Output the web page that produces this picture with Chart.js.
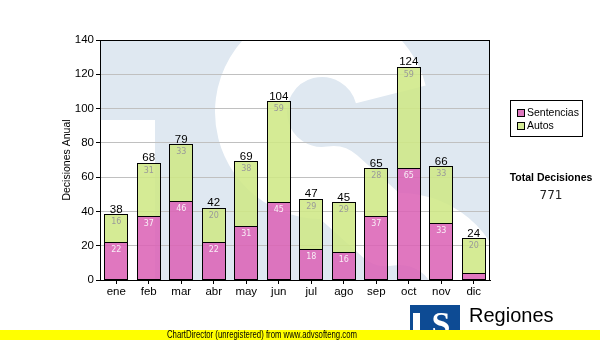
<!DOCTYPE html>
<html>
<head>
<meta charset="utf-8">
<script src="https://cdn.jsdelivr.net/npm/chart.js@4/dist/chart.umd.min.js"></script>
<style>
  html, body { margin: 0; padding: 0; background: #fff; }
  #wrap { position: relative; width: 600px; height: 340px; }
</style>
</head>
<body>
<div id="wrap"><canvas id="c" width="600" height="340"></canvas></div>
<script>
// Monthly decisions, split by type
const months = ['ene', 'feb', 'mar', 'abr', 'may', 'jun', 'jul', 'ago', 'sep', 'oct', 'nov', 'dic'];
const sentencias = [22, 37, 46, 22, 31, 45, 18, 16, 37, 65, 33, 4];
const autos = [16, 31, 33, 20, 38, 59, 29, 29, 28, 59, 33, 20];
const yTickValues = [0, 20, 40, 60, 80, 100, 120, 140];

const totals = months.map((_, i) => sentencias[i] + autos[i]);
const grandTotal = totals.reduce((a, b) => a + b, 0);

const SANS = '"Liberation Sans", Arial, sans-serif';
const VERD = '"DejaVu Sans", Verdana, sans-serif';

// Faded "TS" emblem behind the plot (390x240 design units): T notch plus a wide S stroke
function drawEmblem(ctx, bg, fg) {
  ctx.save();
  ctx.beginPath();
  ctx.rect(0, 0, 390, 240);
  ctx.clip();
  ctx.fillStyle = bg;
  ctx.fillRect(0, 0, 390, 240);
  ctx.fillStyle = fg;
  ctx.fillRect(0, 80, 55, 160);
  ctx.strokeStyle = fg;
  ctx.lineWidth = 72;
  ctx.lineCap = 'butt';
  ctx.lineJoin = 'round';
  ctx.beginPath();
  ctx.arc(222, 72, 71, -0.25, Math.PI * 0.45, true);
  ctx.arc(300, 260, 71, -Math.PI * 0.56, Math.PI * 0.6, false);
  ctx.stroke();
  ctx.restore();
}

// Small solid logo in the footer
function drawLogo(ctx, x, y) {
  ctx.save();
  ctx.beginPath();
  ctx.rect(x, y, 50, 30);
  ctx.clip();
  ctx.fillStyle = '#0d4b94';
  ctx.fillRect(x, y, 50, 30);
  ctx.fillStyle = '#fff';
  ctx.fillRect(x + 3, y + 8, 7, 22);
  ctx.font = 'bold 34px "Liberation Serif", "DejaVu Serif", serif';
  ctx.textAlign = 'center';
  ctx.textBaseline = 'alphabetic';
  ctx.fillText('S', x + 31, y + 30);
  ctx.restore();
}

const decorPlugin = {
  id: 'decor',
  beforeDraw(chart) {
    const { ctx, chartArea: a } = chart;
    ctx.save();
    ctx.translate(a.left, a.top);
    ctx.scale((a.right - a.left) / 390, (a.bottom - a.top) / 240);
    drawEmblem(ctx, '#dfe8f1', '#ffffff');
    ctx.restore();
  },
  afterDatasetsDraw(chart) {
    const { ctx, chartArea: a } = chart;
    const metas = [chart.getDatasetMeta(0), chart.getDatasetMeta(1)];
    ctx.save();
    // crisp black outlines for every bar segment
    ctx.strokeStyle = '#000';
    ctx.lineWidth = 1;
    metas.forEach(meta => meta.data.forEach(el => {
      const p = el.getProps(['x', 'y', 'base', 'width'], true);
      const l = Math.floor(p.x - p.width / 2) + 0.5;
      const r = Math.ceil(p.x + p.width / 2) - 0.5;
      const t = Math.floor(Math.min(p.y, p.base)) + 0.5;
      const b = Math.floor(Math.max(p.y, p.base)) + 0.5;
      ctx.strokeRect(l, t, r - l, b - t);
    }));

    ctx.textAlign = 'center';
    ctx.textBaseline = 'alphabetic';
    months.forEach((_, i) => {
      const b0 = metas[0].data[i];
      const b1 = metas[1].data[i];
      ctx.font = '8px ' + VERD;
      if (Math.abs(b0.base - b0.y) >= 12) {
        ctx.fillStyle = '#f8eef6';
        ctx.fillText(String(sentencias[i]), b0.x, b0.y + 9.5);
      }
      if (Math.abs(b1.base - b1.y) >= 12) {
        ctx.fillStyle = '#9a9a9a';
        ctx.fillText(String(autos[i]), b1.x, b1.y + 9.5);
      }
      ctx.font = '11.5px ' + SANS;
      ctx.fillStyle = '#000';
      ctx.fillText(String(totals[i]), b1.x, b1.y - 2);
    });
    // plot frame
    ctx.strokeRect(Math.round(a.left) + 0.5, Math.round(a.top) + 0.5,
      Math.round(a.right - a.left) - 1, Math.round(a.bottom - a.top));
    ctx.restore();
  },
  afterDraw(chart) {
    const { ctx } = chart;
    ctx.save();

    // axis title
    ctx.save();
    ctx.translate(67, 160);
    ctx.rotate(-Math.PI / 2);
    ctx.font = '10.5px ' + SANS;
    ctx.fillStyle = '#000';
    ctx.textAlign = 'center';
    ctx.textBaseline = 'middle';
    ctx.fillText('Decisiones Anual', 0, 0);
    ctx.restore();

    // legend
    ctx.fillStyle = '#fff';
    ctx.fillRect(510.5, 100.5, 72, 36);
    ctx.strokeStyle = '#000';
    ctx.lineWidth = 1;
    ctx.strokeRect(510.5, 100.5, 72, 36);
    const items = [['Sentencias', '#dd78be', 113], ['Autos', '#d5ec96', 126]];
    ctx.font = '10.5px ' + SANS;
    ctx.textAlign = 'left';
    ctx.textBaseline = 'middle';
    items.forEach(([label, col, y]) => {
      ctx.fillStyle = col;
      ctx.fillRect(517.5, y - 3.5, 7, 7);
      ctx.strokeRect(517.5, y - 3.5, 7, 7);
      ctx.fillStyle = '#000';
      ctx.fillText(label, 527, y + 0.5);
    });

    // grand total
    ctx.textAlign = 'center';
    ctx.font = 'bold 10.5px ' + SANS;
    ctx.fillStyle = '#000';
    ctx.fillText('Total Decisiones', 551, 178);
    ctx.font = '12px ' + VERD;
    ctx.fillStyle = '#222';
    ctx.fillText(String(grandTotal), 551, 196);

    // footer logo and caption
    drawLogo(ctx, 410, 305);
    ctx.fillStyle = '#000';
    ctx.textAlign = 'left';
    ctx.textBaseline = 'alphabetic';
    ctx.font = '20px ' + SANS;
    ctx.fillText('Regiones', 469, 322);
    ctx.font = '11px ' + SANS;
    ctx.fillText('Tribunal Supremo de Justicia', 470, 338);

    // yellow banner
    ctx.fillStyle = '#ffff00';
    ctx.fillRect(0, 330, 600, 10);
    const note = 'ChartDirector (unregistered) from www.advsofteng.com';
    ctx.font = '10px ' + SANS;
    const w = ctx.measureText(note).width;
    ctx.save();
    ctx.translate(262, 335.5);
    ctx.scale(190 / w, 1);
    ctx.fillStyle = '#000';
    ctx.textAlign = 'center';
    ctx.textBaseline = 'middle';
    ctx.fillText(note, 0, 0);
    ctx.restore();

    ctx.restore();
  }
};

Chart.defaults.font.family = SANS;
Chart.defaults.color = '#000';

new Chart(document.getElementById('c'), {
  type: 'bar',
  data: {
    labels: months,
    datasets: [
      {
        label: 'Sentencias',
        data: sentencias,
        backgroundColor: 'rgba(219,99,181,0.87)',
        borderWidth: 0,
        barPercentage: 0.71,
        categoryPercentage: 1
      },
      {
        label: 'Autos',
        data: autos,
        backgroundColor: 'rgba(207,232,133,0.87)',
        borderWidth: 0,
        barPercentage: 0.71,
        categoryPercentage: 1
      }
    ]
  },
  options: {
    responsive: false,
    animation: false,
    layout: { padding: { left: 0, top: 40, right: 110, bottom: 40 } },
    plugins: {
      legend: { display: false },
      tooltip: { enabled: false }
    },
    scales: {
      x: {
        stacked: true,
        afterFit(s) { s.height = 20; },
        grid: {
          drawOnChartArea: false,
          offset: false,
          tickLength: 4,
          tickColor: '#000'
        },
        border: { color: '#000', width: 1 },
        ticks: { font: { size: 11.5 }, padding: 1, color: '#000' }
      },
      y: {
        stacked: true,
        min: 0,
        max: 140,
        afterFit(s) { s.width = 100; },
        afterBuildTicks(s) { s.ticks = yTickValues.map(v => ({ value: v })); },
        grid: {
          color: '#c0c0c0',
          tickColor: '#000',
          tickLength: 4
        },
        border: { color: '#000', width: 1 },
        ticks: { font: { size: 11.5 }, padding: 2, color: '#000' }
      }
    }
  },
  plugins: [decorPlugin]
});
</script>
</body>
</html>
